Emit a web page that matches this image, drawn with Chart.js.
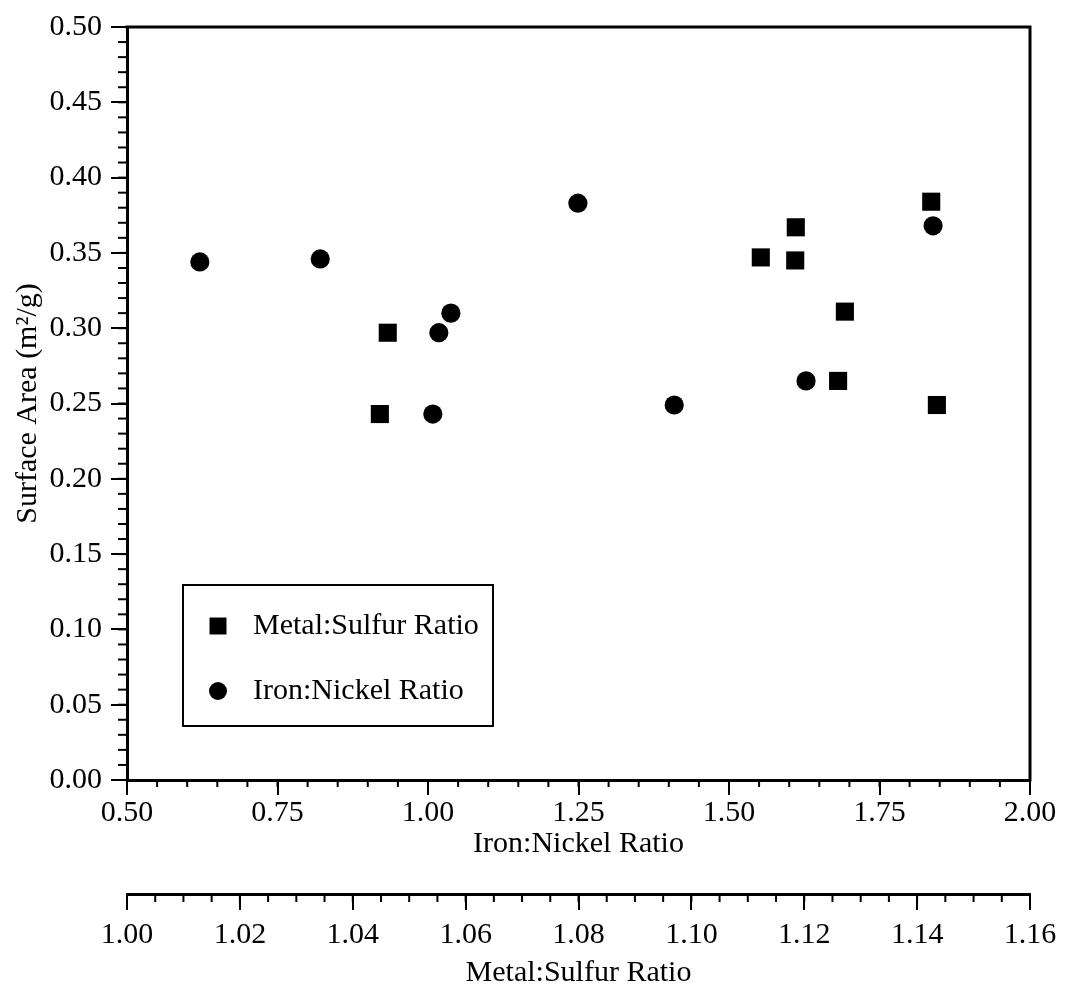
<!DOCTYPE html>
<html>
<head>
<meta charset="utf-8">
<title>Surface Area vs Iron:Nickel and Metal:Sulfur Ratio</title>
<script src="https://cdn.jsdelivr.net/npm/chart.js@4"></script>
<style>
  html, body { margin: 0; padding: 0; background: #ffffff; }
  #wrap { width: 1066px; height: 992px; position: relative; }
</style>
</head>
<body>
<div id="wrap"><canvas id="chart"></canvas></div>
<script>
// Iron:Nickel ratio samples (plotted against the main x axis)
const ironNickelX = [0.621, 0.821, 1.249, 1.038, 1.018, 1.008, 1.409, 1.628, 1.839];
const ironNickelY = [0.344, 0.346, 0.383, 0.310, 0.297, 0.243, 0.249, 0.265, 0.368];

// Metal:Sulfur ratio samples (plotted against the secondary x axis)
const metalSulfurX = [1.0448, 1.0462, 1.1123, 1.1185, 1.1184, 1.1272, 1.1260, 1.1425, 1.1435];
const metalSulfurY = [0.243, 0.297, 0.347, 0.367, 0.345, 0.311, 0.265, 0.384, 0.249];

const seriesNames = ['Metal:Sulfur Ratio', 'Iron:Nickel Ratio'];
const yTitle = 'Surface Area (m\u00B2/g)';
const xTitle = 'Iron:Nickel Ratio';
const x2Title = 'Metal:Sulfur Ratio';

// axis ranges and tick steps
const yRange = [0, 0.5], yMajor = 0.05, yMinor = 0.01;
const xRange = [0.5, 2.0], xMajor = 0.25, xMinor = 0.05;
const x2Range = [1.0, 1.16], x2Major = 0.02, x2Minor = 0.005;

const FONT = "'Liberation Serif', 'Times New Roman', serif";
const INK = '#000000';
const FONT_SIZE = 30;

const toPoints = (xs, ys) => xs.map((x, i) => ({ x: x, y: ys[i] }));

// minor tick marks for each axis
const minorTicks = {
  id: 'minorTicks',
  afterDraw(chart) {
    const ctx = chart.ctx;
    const specs = [
      { id: 'y', step: yMinor, len: 9 },
      { id: 'x', step: xMinor, len: 7 },
      { id: 'x2', step: x2Minor, len: 8 }
    ];
    ctx.save();
    ctx.strokeStyle = INK;
    ctx.lineWidth = 2;
    specs.forEach(s => {
      const sc = chart.scales[s.id];
      const n = Math.round((sc.max - sc.min) / s.step);
      for (let i = 0; i <= n; i++) {
        const v = sc.min + i * s.step;
        const p = sc.getPixelForValue(v);
        ctx.beginPath();
        if (s.id === 'y') {
          ctx.moveTo(sc.right, p); ctx.lineTo(sc.right - s.len, p);
        } else {
          ctx.moveTo(p, sc.top); ctx.lineTo(p, sc.top + s.len);
        }
        ctx.stroke();
      }
    });
    ctx.restore();
  }
};

// closes the plot frame on the top and right
const frame = {
  id: 'frame',
  afterDraw(chart) {
    const { ctx, chartArea: a } = chart;
    ctx.save();
    ctx.strokeStyle = INK;
    ctx.lineWidth = 3;
    ctx.beginPath();
    ctx.moveTo(a.left - 1.5, a.top);
    ctx.lineTo(a.right, a.top);
    ctx.lineTo(a.right, a.bottom + 1.5);
    ctx.stroke();
    ctx.restore();
  }
};

// boxed legend inside the lower-left of the plot
const boxLegend = {
  id: 'boxLegend',
  afterDraw(chart) {
    const { ctx, chartArea: a } = chart;
    const bx = a.left + 56, by = a.top + 558, bw = 310, bh = 141;
    ctx.save();
    ctx.strokeStyle = INK;
    ctx.lineWidth = 2;
    ctx.strokeRect(bx, by, bw, bh);
    ctx.fillStyle = INK;
    ctx.font = FONT_SIZE + 'px ' + FONT;
    ctx.textBaseline = 'middle';
    ctx.textAlign = 'left';
    const rows = [by + 41, by + 106];
    chart.data.datasets.forEach((ds, i) => {
      const cy = rows[i], cx = bx + 35;
      Chart.helpers.drawPoint(ctx, {
        pointStyle: ds.pointStyle,
        radius: ds.pointStyle === 'rect' ? 12 : 9,
        rotation: 0,
        borderWidth: 0
      }, cx, cy);
      ctx.fillStyle = INK;
      ctx.fillText(ds.label, bx + 70, cy);
    });
    ctx.restore();
  }
};

const tickFont = { family: FONT, size: FONT_SIZE };

new Chart(document.getElementById('chart'), {
  type: 'scatter',
  data: {
    datasets: [
      {
        label: seriesNames[0],
        data: toPoints(metalSulfurX, metalSulfurY),
        xAxisID: 'x2', yAxisID: 'y',
        pointStyle: 'rect', pointRadius: 12.8, pointHoverRadius: 12.8,
        backgroundColor: INK, borderColor: INK, borderWidth: 0
      },
      {
        label: seriesNames[1],
        data: toPoints(ironNickelX, ironNickelY),
        xAxisID: 'x', yAxisID: 'y',
        pointStyle: 'circle', pointRadius: 9.6, pointHoverRadius: 9.6,
        backgroundColor: INK, borderColor: INK, borderWidth: 0
      }
    ]
  },
  options: {
    responsive: true,
    maintainAspectRatio: false,
    devicePixelRatio: 1,
    animation: false,
    events: [],
    layout: { padding: { left: 0, right: 36, top: 24, bottom: 0 } },
    plugins: { legend: { display: false }, tooltip: { enabled: false } },
    scales: {
      y: {
        type: 'linear', position: 'left',
        min: yRange[0], max: yRange[1],
        afterFit: s => { s.width = 127; },
        ticks: { stepSize: yMajor, color: INK, font: tickFont, padding: 9,
                 callback: v => Number(v).toFixed(2) },
        grid: { display: true, drawOnChartArea: false, drawTicks: true,
                tickLength: 16, lineWidth: 2, color: INK },
        border: { display: true, color: INK, width: 3 },
        title: { display: true, text: yTitle, color: INK, font: tickFont,
                 padding: { top: 10, bottom: 0 } }
      },
      x: {
        type: 'linear', position: 'bottom', weight: 0,
        min: xRange[0], max: xRange[1],
        afterFit: s => { s.height = 114; },
        ticks: { stepSize: xMajor, color: INK, font: tickFont, padding: 0,
                 maxRotation: 0, autoSkip: false,
                 callback: v => Number(v).toFixed(2) },
        grid: { display: true, drawOnChartArea: false, drawTicks: true,
                tickLength: 15, lineWidth: 2, color: INK },
        border: { display: true, color: INK, width: 3 },
        title: { display: true, text: xTitle, color: INK, font: tickFont,
                 padding: { top: 0, bottom: 32 } }
      },
      x2: {
        type: 'linear', position: 'bottom', weight: 1,
        min: x2Range[0], max: x2Range[1],
        afterFit: s => { s.height = 98; },
        ticks: { stepSize: x2Major, color: INK, font: tickFont, padding: 7,
                 maxRotation: 0, autoSkip: false,
                 callback: v => Number(v).toFixed(2) },
        grid: { display: true, drawOnChartArea: false, drawTicks: true,
                tickLength: 16, lineWidth: 2, color: INK },
        border: { display: true, color: INK, width: 3 },
        title: { display: true, text: x2Title, color: INK, font: tickFont,
                 padding: { top: 0, bottom: 1 } }
      }
    }
  },
  plugins: [minorTicks, frame, boxLegend]
});
</script>
</body>
</html>
